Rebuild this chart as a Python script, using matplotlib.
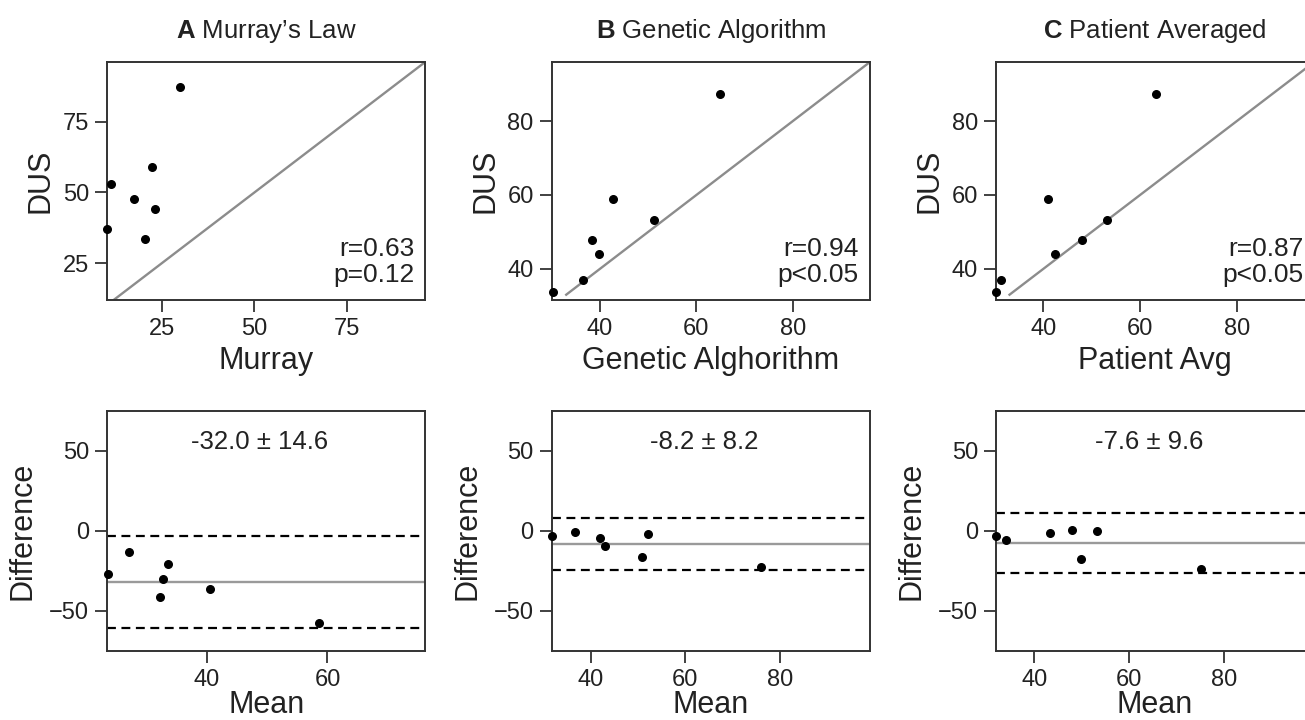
import matplotlib
matplotlib.use("Agg")
import matplotlib.pyplot as plt
import numpy as np

plt.rcParams['font.family'] = ['Liberation Sans', 'DejaVu Sans']
plt.rcParams['mathtext.fontset'] = 'custom'
plt.rcParams['mathtext.rm'] = 'Liberation Sans'
plt.rcParams['mathtext.bf'] = 'Liberation Sans:bold'

# measured flow split (DUS) and the three model estimates, same patient order
dus = [87.2, 58.8, 53.1, 47.8, 44.1, 37.0, 33.6]
murray = [29.9, 22.3, 11.5, 17.6, 23.2, 10.2, 20.6]
genetic = [64.8, 42.7, 51.3, 38.4, 39.9, 36.4, 30.3]
patient_avg = [63.2, 41.0, 53.1, 48.0, 42.5, 31.2, 30.3]

letters = ["A", "B", "C"]
titles = ["Murray’s Law", "Genetic Algorithm", "Patient Averaged"]
xlabels = ["Murray", "Genetic Alghorithm", "Patient Avg"]
r_text = ["r=0.63", "r=0.94", "r=0.87"]
p_text = ["p=0.12", "p<0.05", "p<0.05"]
bias = [-32.0, -8.2, -7.6]
bias_sd = [14.6, 8.2, 9.6]

methods = [murray, genetic, patient_avg]

fig = plt.figure(figsize=(13.05, 7.2), dpi=100)

lefts = [0.082, 0.4228, 0.7632]
w = 0.2439
top_lims = [((10.3, 96), (12, 96)), ((30, 96), (31.5, 96)), ((30.2, 96), (31.5, 96))]
top_ticks = [([25, 50, 75], [25, 50, 75]), ([40, 60, 80], [40, 60, 80]), ([40, 60, 80], [40, 60, 80])]
diag_lo = [10, 33, 33]
ba_xlims = [(23.5, 76.2), (31.8, 99), (31.9, 99)]

spine_col = "#333333"
text_col = "#222222"


def style(ax):
    for s in ax.spines.values():
        s.set_color(spine_col)
        s.set_linewidth(1.4)
    ax.tick_params(direction="out", length=8.5, width=1.3, color=spine_col,
                   labelsize=17, pad=4.5, labelcolor=text_col)


for i in range(3):
    m = methods[i]

    # scatter against DUS with the identity line
    ax = fig.add_axes([lefts[i], 0.583, w, 0.331])
    ax.plot([diag_lo[i], 100], [diag_lo[i], 100], color="#8c8c8c", lw=1.7, zorder=1)
    ax.scatter(m, dus, s=30, color="black", zorder=3, clip_on=False)
    ax.set_xlim(*top_lims[i][0])
    ax.set_ylim(*top_lims[i][1])
    ax.set_xticks(top_ticks[i][0])
    ax.set_yticks(top_ticks[i][1])
    ax.set_xlabel(xlabels[i], fontsize=22, labelpad=4, color=text_col)
    ax.set_ylabel("DUS", fontsize=22, labelpad=5, color=text_col)
    ax.set_title(r"$\mathbf{" + letters[i] + "}$ " + titles[i], fontsize=18.5, pad=17,
                 color=text_col)
    ax.text(0.965, 0.055, r_text[i] + "\n" + p_text[i], transform=ax.transAxes,
            ha="right", va="bottom", fontsize=19, linespacing=1.1, color=text_col)
    style(ax)

    # Bland-Altman: difference vs mean
    mean = (np.array(m) + np.array(dus)) / 2
    diff = np.array(m) - np.array(dus)
    ax2 = fig.add_axes([lefts[i], 0.0958, w, 0.334])
    ax2.axhline(bias[i], color="#9a9a9a", lw=1.7, zorder=1)
    ax2.axhline(bias[i] + 1.96 * bias_sd[i], color="black", lw=1.6, ls=(0, (4, 2.5)), zorder=1)
    ax2.axhline(bias[i] - 1.96 * bias_sd[i], color="black", lw=1.6, ls=(0, (4, 2.5)), zorder=1)
    ax2.scatter(mean, diff, s=30, color="black", zorder=3, clip_on=False)
    ax2.set_xlim(*ba_xlims[i])
    ax2.set_ylim(-75, 75)
    ax2.set_xticks([40, 60, 80] if i > 0 else [40, 60])
    ax2.set_yticks([-50, 0, 50])
    ax2.set_xlabel("Mean", fontsize=22, labelpad=-1, color=text_col)
    ax2.set_ylabel("Difference", fontsize=22, labelpad=8, color=text_col)
    ax2.text(0.48, 0.87, "%.1f ± %.1f" % (bias[i], bias_sd[i]), transform=ax2.transAxes,
             ha="center", va="center", fontsize=18.5, color=text_col)
    style(ax2)

fig.savefig("out.png", dpi=100)
